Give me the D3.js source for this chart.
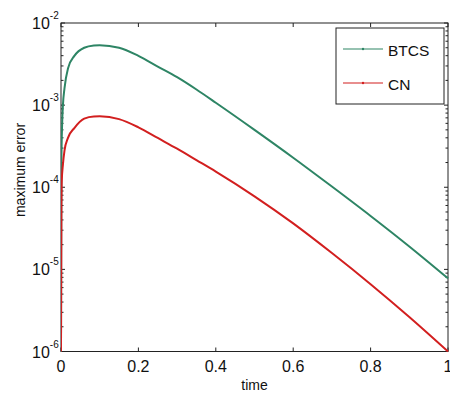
<!DOCTYPE html>
<html><head><meta charset="utf-8">
<script src="https://cdn.jsdelivr.net/npm/d3@7"></script>
<style>body{margin:0;background:#fff;}svg{display:block;font-family:"Liberation Sans",Arial,sans-serif;}</style>
</head><body>
<svg id="c" width="450" height="396"></svg>
<script>
const seriesNames = ["BTCS", "CN"];
const seriesColors = ["#2e8565", "#d21f1f"];
const timeBTCS = [0, 0.001, 0.003, 0.005, 0.009, 0.018, 0.035, 0.06, 0.085, 0.1, 0.15, 0.2, 0.25, 0.3, 0.35, 0.4, 0.5, 0.6, 0.7, 0.8, 0.9, 1.0];
const errBTCS = [1e-6, 2e-4, 6e-4, 1.0e-3, 1.6e-3, 2.8e-3, 4.0e-3, 5.0e-3, 5.33e-3, 5.37e-3, 5.0e-3, 3.98e-3, 2.95e-3, 2.19e-3, 1.55e-3, 1.07e-3, 5.0e-4, 2.29e-4, 1.02e-4, 4.47e-5, 1.9e-5, 7.76e-6];
const timeCN = [0, 0.001, 0.002, 0.005, 0.009, 0.018, 0.035, 0.06, 0.085, 0.1, 0.15, 0.2, 0.25, 0.3, 0.35, 0.4, 0.5, 0.6, 0.7, 0.8, 0.9, 1.0];
const errCN = [1e-6, 5e-5, 1.2e-4, 1.9e-4, 2.8e-4, 4.0e-4, 5.3e-4, 6.85e-4, 7.28e-4, 7.3e-4, 6.76e-4, 5.37e-4, 3.98e-4, 2.95e-4, 2.14e-4, 1.55e-4, 7.76e-5, 3.63e-5, 1.58e-5, 6.6e-6, 2.63e-6, 1.0e-6];
const xTicks = [0, 0.2, 0.4, 0.6, 0.8, 1];
const yExponents = [-2, -3, -4, -5, -6];

const svg = d3.select("#c");
const L = 61, R = 448, T = 23, B = 351.5;
const x = d3.scaleLinear().domain([0, 1]).range([L, R]);
const y = d3.scaleLog().domain([1e-6, 1e-2]).range([B, T]);

// axes box
svg.append("rect").attr("x", L).attr("y", T).attr("width", R - L).attr("height", B - T)
  .attr("fill", "#fff").attr("stroke", "#222").attr("stroke-width", 1);

const g = svg.append("g").attr("stroke", "#222").attr("stroke-width", 1);
xTicks.forEach(t => {
  g.append("line").attr("x1", x(t)).attr("x2", x(t)).attr("y1", B).attr("y2", B - 4);
  g.append("line").attr("x1", x(t)).attr("x2", x(t)).attr("y1", T).attr("y2", T + 4);
});
yExponents.forEach(e => {
  const v = Math.pow(10, e);
  g.append("line").attr("x1", L).attr("x2", L + 4).attr("y1", y(v)).attr("y2", y(v));
  g.append("line").attr("x1", R).attr("x2", R - 4).attr("y1", y(v)).attr("y2", y(v));
  if (e > -6) {
    for (let m = 2; m <= 9; m++) {
      const mv = m * Math.pow(10, e - 1);
      g.append("line").attr("x1", L).attr("x2", L + 2.5).attr("y1", y(mv)).attr("y2", y(mv));
      g.append("line").attr("x1", R).attr("x2", R - 2.5).attr("y1", y(mv)).attr("y2", y(mv));
    }
  }
});

// x tick labels
svg.append("g").selectAll("text").data(xTicks).join("text")
  .attr("x", d => x(d)).attr("y", 372).attr("text-anchor", "middle")
  .attr("font-size", 16).attr("fill", "#111").text(d => d3.format("~g")(d));

// y tick labels 10^e
const yl = svg.append("g").selectAll("text").data(yExponents).join("text")
  .attr("x", 32).attr("y", d => y(Math.pow(10, d)) + 6)
  .attr("font-size", 16).attr("fill", "#111");
yl.append("tspan").text("10");
yl.append("tspan").attr("font-size", 10).attr("dy", -10).text(d => "-" + Math.abs(d));

// axis labels
svg.append("text").attr("x", x(0.5)).attr("y", 390).attr("text-anchor", "middle")
  .attr("font-size", 14).attr("fill", "#111").text("time");
svg.append("text").attr("transform", "translate(25,170) rotate(-90)").attr("text-anchor", "middle")
  .attr("font-size", 14).attr("fill", "#111").text("maximum error");

// lines
svg.append("clipPath").attr("id", "pc").append("rect")
  .attr("x", L).attr("y", T).attr("width", R - L + 1).attr("height", B - T + 1);
const line = d3.line().x(d => x(d[0])).y(d => y(d[1])).curve(d3.curveMonotoneX);
const dataSets = [d3.zip(timeBTCS, errBTCS), d3.zip(timeCN, errCN)];
dataSets.forEach((ds, i) => {
  svg.append("path").datum(ds).attr("d", line).attr("fill", "none")
    .attr("stroke", seriesColors[i]).attr("stroke-width", 2).attr("clip-path", "url(#pc)");
});

// legend
const lg = svg.append("g");
lg.append("rect").attr("x", 336).attr("y", 28).attr("width", 108).attr("height", 76)
  .attr("fill", "#fff").attr("stroke", "#222").attr("stroke-width", 1);
seriesNames.forEach((n, i) => {
  const yy = 49 + i * 34;
  lg.append("line").attr("x1", 343).attr("x2", 383).attr("y1", yy).attr("y2", yy)
    .attr("stroke", seriesColors[i]).attr("stroke-width", 1.2);
  lg.append("circle").attr("cx", 363).attr("cy", yy).attr("r", 1.2).attr("fill", seriesColors[i]);
  lg.append("text").attr("x", 388).attr("y", yy + 6.5).attr("font-size", 15.5).attr("fill", "#111").text(n);
});
</script>
</body></html>
